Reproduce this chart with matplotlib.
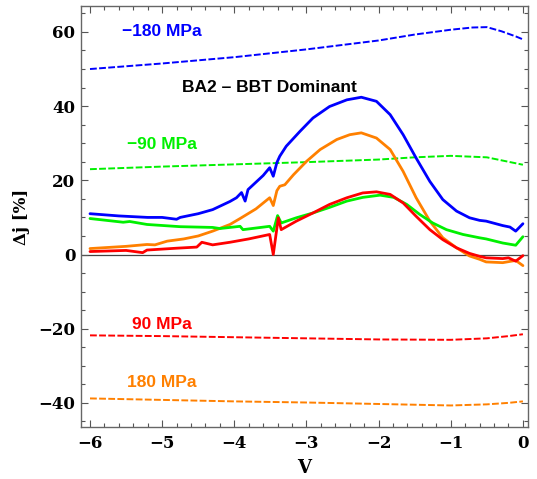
import matplotlib
matplotlib.use("Agg")
import matplotlib.pyplot as plt
from matplotlib.ticker import MultipleLocator

# ---------------- data ----------------
# dashed curves (strained, -180 / -90 / 90 / 180 MPa)
v_m180 = [-6, -5, -4, -3, -2, -1.5, -1, -0.7, -0.5, -0.3, -0.1, 0]
dj_m180 = [50, 51.5, 53.2, 55.3, 57.7, 59.3, 60.6, 61.2, 61.3, 60.2, 58.8, 58]

v_m90 = [-6, -5, -4, -3, -2, -1.5, -1, -0.5, -0.2, 0]
dj_m90 = [23, 23.7, 24.3, 24.9, 25.6, 26.2, 26.6, 26.2, 25, 24.2]

v_p90 = [-6, -5, -4, -3, -2, -1, -0.5, -0.2, 0]
dj_p90 = [-21.8, -22.0, -22.3, -22.6, -22.9, -23.0, -22.6, -22.0, -21.5]

v_p180 = [-6, -5, -4, -3, -2, -1, -0.5, -0.2, 0]
dj_p180 = [-38.8, -39.2, -39.6, -39.9, -40.3, -40.7, -40.4, -40.0, -39.6]

# solid curves (BA2 - BBT dominant)
v_blue = [-6, -5.6, -5.2, -5.0, -4.8, -4.75, -4.5, -4.3, -4.06, -3.97, -3.9,
          -3.85, -3.81, -3.6, -3.51, -3.46, -3.41, -3.37, -3.28, -3.09, -2.91,
          -2.68, -2.44, -2.24, -2.03, -1.84, -1.66, -1.48, -1.29, -1.11, -0.92,
          -0.74, -0.6, -0.51, -0.28, -0.18, -0.1, 0]
dj_blue = [11, 10.4, 10, 10, 9.5, 10, 11, 12.1, 14.3, 15.3, 16.7,
           14.4, 17.5, 21.3, 23.4, 21.1, 24.8, 26.5, 29.2, 33.2, 36.8,
           39.9, 41.7, 42.4, 41.3, 37.7, 32.3, 26, 19.7, 14.8, 11.7,
           9.9, 9.2, 9, 7.8, 7.4, 6.3, 8.3]

v_orange = [-6, -5.5, -5.21, -5.1, -4.93, -4.7, -4.5, -4.3, -4.06, -3.92, -3.7,
            -3.51, -3.46, -3.41, -3.37, -3.30, -3.18, -3.0, -2.81, -2.58, -2.4,
            -2.24, -2.03, -1.84, -1.66, -1.48, -1.29, -1.11, -0.92, -0.74, -0.6,
            -0.51, -0.28, -0.1, 0]
dj_orange = [1.6, 2.2, 2.7, 2.6, 3.6, 4.2, 5.0, 6.3, 8.1, 9.7, 12.3,
             15.3, 13.2, 17.2, 18.4, 18.8, 21.5, 25.1, 28.3, 31, 32.3,
             32.8, 31.4, 28.3, 22.4, 15.3, 9, 4.5, 1.8, -0.4, -1.3,
             -2.0, -2.2, -1.6, -3]

v_green = [-6, -5.54, -5.45, -5.21, -4.75, -4.3, -4.2, -3.92, -3.88, -3.51,
           -3.46, -3.4, -3.35, -3.14, -2.91, -2.68, -2.44, -2.22, -1.98, -1.79,
           -1.61, -1.43, -1.25, -1.06, -0.83, -0.6, -0.51, -0.28, -0.1, 0]
dj_green = [9.7, 8.7, 8.9, 8.1, 7.5, 7.3, 7, 7.6, 6.7, 7.6,
            6.3, 10.5, 8.5, 9.9, 11.2, 12.7, 14.4, 15.4, 16, 15.4,
            13.5, 10.8, 8.5, 6.7, 5.4, 4.5, 4.2, 3.1, 2.5, 4.8]

v_red = [-6, -5.5, -5.27, -5.21, -4.8, -4.52, -4.45, -4.3, -4.06, -3.8, -3.51,
         -3.46, -3.39, -3.35, -3.14, -2.91, -2.68, -2.44, -2.22, -2.03, -1.84,
         -1.66, -1.48, -1.29, -1.11, -0.92, -0.74, -0.6, -0.51, -0.28, -0.2,
         -0.1, 0]
dj_red = [0.8, 1.1, 0.5, 1.2, 1.7, 2.0, 3.3, 2.6, 3.3, 4.2, 5.4,
          0, 9.9, 6.7, 9, 11.2, 13.5, 15.3, 16.6, 16.9, 16.2,
          13.9, 10.3, 6.7, 4.0, 1.8, 0.3, -0.5, -0.9, -1.1, -0.9,
          -1.8, -0.3]

labels = ["\u2212180 MPa", "\u221290 MPa", "90 MPa", "180 MPa"]
title_text = "BA2 \u2013 BBT Dominant"
xticks = [-6, -5, -4, -3, -2, -1, 0]
xtick_labels = ["\u22126", "\u22125", "\u22124", "\u22123", "\u22122", "\u22121", "0"]
yticks = [-40, -20, 0, 20, 40, 60]
ytick_labels = ["\u221240", "\u221220", "0", "20", "40", "60"]

BLUE = "#0000ff"
GREEN = "#00f000"
RED = "#ff0000"
ORANGE = "#ff8000"

# ---------------- figure ----------------
fig = plt.figure(figsize=(5.37, 4.79), dpi=100)
ax = fig.add_axes([0.1508, 0.1086, 0.8324, 0.8789])

dash = (3.5, 1.2)
ax.plot(v_m180, dj_m180, color=BLUE, lw=1.4, dashes=dash)
ax.plot(v_m90, dj_m90, color=GREEN, lw=1.4, dashes=dash)
ax.plot(v_p90, dj_p90, color=RED, lw=1.4, dashes=dash)
ax.plot(v_p180, dj_p180, color=ORANGE, lw=1.4, dashes=dash)

ax.axhline(0, color="#444444", lw=0.9, zorder=1)

skw = dict(lw=2.0, solid_joinstyle="round", solid_capstyle="round")
ax.plot(v_blue, dj_blue, color=BLUE, **skw)
ax.plot(v_orange, dj_orange, color=ORANGE, **skw)
ax.plot(v_green, dj_green, color=GREEN, **skw)
ax.plot(v_red, dj_red, color=RED, **skw)

ax.set_xlim(-6.125, 0.07)
ax.set_ylim(-46.5, 67)

ax.set_xticks(xticks)
ax.set_xticklabels(xtick_labels)
ax.set_yticks(yticks)
ax.set_yticklabels(ytick_labels)
ax.xaxis.set_minor_locator(MultipleLocator(0.2))
ax.yaxis.set_minor_locator(MultipleLocator(5))
ax.tick_params(which="both", direction="in", top=True, right=True,
               color="#555555", width=0.8)
ax.tick_params(which="major", length=5)
ax.tick_params(which="minor", length=2.8)
for lab in ax.get_xticklabels() + ax.get_yticklabels():
    lab.set_fontfamily("DejaVu Serif")
    lab.set_fontweight("bold")
    lab.set_fontsize(12)
ax.tick_params(axis="x", pad=6)
ax.tick_params(axis="y", pad=4)
for s in ax.spines.values():
    s.set_color("#666666")
    s.set_linewidth(1.0)

ax.set_xlabel("V", fontfamily="DejaVu Serif", fontweight="bold", fontsize=13, labelpad=5)
ax.set_ylabel("\u0394j [%]", fontfamily="DejaVu Serif", fontweight="bold", fontsize=12, labelpad=6)

tkw = dict(fontfamily="Liberation Sans", fontweight="bold", fontsize=12.5,
           ha="center", va="center")
ax.text(-5.0, 60.2, labels[0], color=BLUE, **tkw)
ax.text(-5.0, 29.7, labels[1], color=GREEN, **tkw)
ax.text(-5.0, -19.0, labels[2], color=RED, **tkw)
ax.text(-5.0, -34.6, labels[3], color=ORANGE, **tkw)
ax.text(-3.52, 45.0, title_text, color="black", **tkw)

fig.savefig("out.png", dpi=100)
